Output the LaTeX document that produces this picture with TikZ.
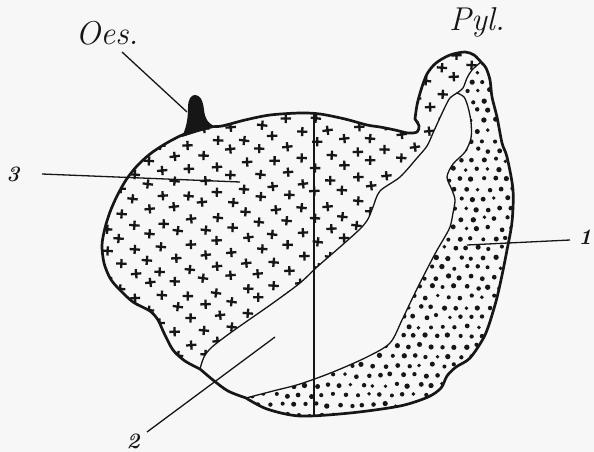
\documentclass[tikz,border=0pt]{standalone}
\usepackage{fontspec}
\definecolor{ink}{RGB}{22,22,22}
\definecolor{paper}{RGB}{247,247,247}

% outline of the stomach, split where the zone boundaries meet it
\def\curl{plot[smooth] coordinates {(481,62) (474,55) (465,52) (450,55) (436,63) (427,74) (421,90) (417,105) (415,119)}}
\def\topleft{plot[smooth] coordinates {(415,119) (419,126) (417,132) (408,133) (395,130) (380,127) (367,125) (345,119) (320,114) (300,113) (270,115) (245,120) (222,126) (208,127) (193,131) (180,136) (165,144) (150,154) (137,166) (126,180) (117,196) (110,212) (105,228) (102,245) (104,263) (110,278) (118,288) (133,302) (150,311) (158,320) (164,333) (173,350) (185,361) (200,369)}}
\def\bottomA{plot[smooth] coordinates {(200,369) (213,380) (228,391) (246,398)}}
\def\rightside{plot[smooth] coordinates {(246,398) (267,409) (300,416) (350,413) (400,406) (428,397) (441,388) (447,376) (456,367) (470,358) (485,335) (495,305) (501,280) (507,250) (512,222) (513,190) (507,157) (502,143) (497,117) (492,97) (490,80) (486,68) (481,62)}}

% zone boundaries inside the stomach
\def\lineI{plot[smooth] coordinates {(200,369) (204,357) (212,347) (233,331) (273,303) (300,283) (317,267) (340,247) (360,229) (368,219) (373,207) (380,191) (400,177) (417,158) (427,146) (433,133) (438,122) (445,107) (450,98) (457,93)}}
\def\lineII{plot[smooth] coordinates {(457,93) (463,88) (467,78) (472,70) (481,62)}}
\def\lineIIrev{plot[smooth] coordinates {(481,62) (472,70) (467,78) (463,88) (457,93)}}
\def\lineIII{plot[smooth] coordinates {(457,93) (464,97) (468,107) (471,122) (471,138) (465,152) (453,164) (447,177) (452,190) (455,200) (453,213) (450,227) (443,240) (436,252) (424,275) (413,297) (402,320) (390,343) (367,357) (333,372) (300,384) (273,391) (246,398)}}

\edef\crosszone{\lineI -- \lineII -- \curl -- \topleft -- cycle}
\edef\dotzone{\lineIII -- \rightside -- \lineIIrev -- cycle}
\edef\stomach{\curl -- \topleft -- \bottomA -- \rightside -- cycle}

\begin{document}
\begin{tikzpicture}[x=1pt,y=-1pt,
  stomachline/.style={draw=ink,line width=2.7pt,line join=round,line cap=round},
  zoneline/.style={draw=ink,line width=1.3pt,line cap=round,line join=round},
  leaderline/.style={draw=ink,line width=1.3pt},
  crossmark/.style={draw=ink,line width=2.3pt},
  nametext/.style={inner sep=0pt,text=ink,font=\fontsize{33}{33}\selectfont\itshape},
  numtext/.style={inner sep=0pt,text=ink,font=\fontsize{22}{22}\selectfont\bfseries\itshape}]

\fill[paper] (0,0) rectangle (594,452);
\useasboundingbox (0,0) rectangle (594,452);
\pgfmathsetseed{42}

% zone 3: crosses
\begin{scope}
  \clip \crosszone;
  \foreach \j in {0,...,31}{
    \foreach \i in {0,...,15}{
      \pgfmathsetmacro\cx{92+28*\i+14*mod(\j,2)+2.5*rand}
      \pgfmathsetmacro\cy{40+12.5*\j-2.8*\i+2*rand}
      \pgfmathsetmacro\ca{8*rand}
      \draw[crossmark,shift={(\cx,\cy)},rotate=\ca]
        (-5.2,0) -- (5.2,0) (0,-4.6) -- (0,4.6);
      \fill[ink,shift={(\cx,\cy)}] (0,0) circle[radius=1.7];
    }
  }
\end{scope}

% zone 1: dots
\begin{scope}
  \clip \dotzone;
  \foreach \j in {0,...,37}{
    \foreach \i in {0,...,24}{
      \pgfmathsetmacro\dx{236+11.5*\i+5.75*mod(\j,2)+1.6*rand}
      \pgfmathsetmacro\dy{52+9.8*\j+1.6*rand}
      \pgfmathsetmacro\dr{2.3+0.4*rand}
      \fill[ink] (\dx,\dy) circle[radius=\dr];
    }
  }
\end{scope}

% zone boundaries and the vertical axis
\draw[zoneline] \lineI;
\draw[zoneline] \lineII;
\draw[zoneline] \lineIII;
\coordinate (axisTop) at (314,114);
\coordinate (axisBottom) at (314,415);
\draw[zoneline] (axisTop) -- (axisBottom);

% outline
\draw[stomachline] \stomach;

% oesophagus stump
\fill[ink] (182,137) .. controls (186,128) and (188,120) .. (188,108)
  .. controls (188,99) and (191,95) .. (195,95)
  .. controls (200,95) and (203,100) .. (204,110)
  .. controls (205,118) and (207,123) .. (216,127) -- (198,132) -- cycle;

% labels and leaders
\node[nametext] (oes) at (107,33) {Oes.};
\node[nametext] (pyl) at (477,22) {Pyl.};
\node[numtext] (three) at (13,174) {3};
\node[numtext] (two) at (133,441) {2};
\node[numtext] (one) at (585,237) {1};

\coordinate (oesTip) at (187,112);
\coordinate (threeTip) at (240,182);
\coordinate (twoTip) at (275,337);
\coordinate (oneTip) at (467,245);

\draw[leaderline] (oes) ++(15,19) -- (oesTip);
\draw[leaderline] (three) ++(29,0) -- (threeTip);
\draw[leaderline] (two) ++(14,-9) -- (twoTip);
\draw[leaderline] (one) ++(-15,3) -- (oneTip);
\end{tikzpicture}
\end{document}
